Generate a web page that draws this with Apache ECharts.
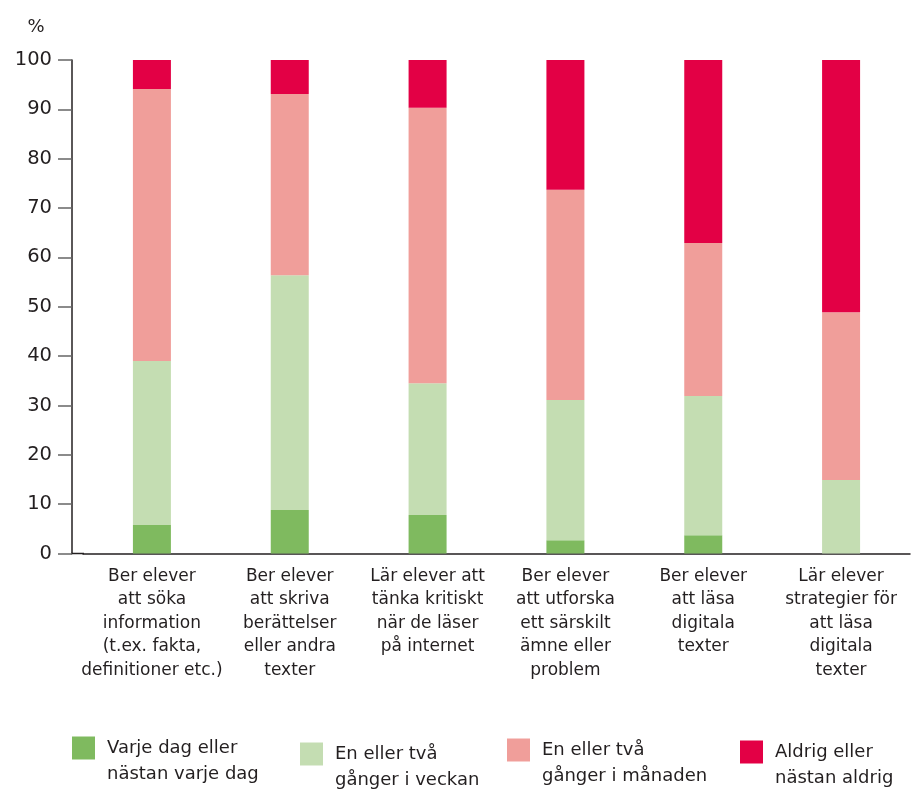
<!DOCTYPE html>
<html>
<head>
<meta charset="utf-8">
<script src="https://cdn.jsdelivr.net/npm/echarts@6/dist/echarts.min.js"></script>
<style>
html,body{margin:0;padding:0;background:#fff;}
#chart{width:911px;height:790px;}
</style>
</head>
<body>
<div id="chart"></div>
<script>
const categories = [
  "Ber elever\natt söka\ninformation\n(t.ex. fakta,\ndefinitioner etc.)",
  "Ber elever\natt skriva\nberättelser\neller andra\ntexter",
  "Lär elever att\ntänka kritiskt\nnär de läser\npå internet",
  "Ber elever\natt utforska\nett särskilt\nämne eller\nproblem",
  "Ber elever\natt läsa\ndigitala\ntexter",
  "Lär elever\nstrategier för\natt läsa\ndigitala\ntexter"
];
const seriesNames = [
  "Varje dag eller\nnästan varje dag",
  "En eller två\ngånger i veckan",
  "En eller två\ngånger i månaden",
  "Aldrig eller\nnästan aldrig"
];
const dailyValues   = [5.8, 8.8, 7.8, 2.7, 3.7, 0];
const weeklyValues  = [33.2, 47.6, 26.7, 28.4, 28.2, 14.9];
const monthlyValues = [55.1, 36.7, 55.8, 42.6, 31.0, 34.0];
const neverValues   = [5.9, 7.1, 9.7, 26.3, 37.1, 51.1];
const yTicks = [0, 10, 20, 30, 40, 50, 60, 70, 80, 90, 100];

const colors = ["#7fba5f", "#c4ddb2", "#f09e9a", "#e30045"];
const FONT = "DejaVu Sans";
const TXT = "#231f20";

const allValues = [dailyValues, weeklyValues, monthlyValues, neverValues];

const chart = echarts.init(document.getElementById('chart'), null, {renderer: 'canvas'});

const legendPos = [
  {left: 72, top: 704},
  {left: 300, top: 710},
  {left: 507, top: 706},
  {left: 740, top: 708}
];

const legends = seriesNames.map((n, i) => ({
  data: [n],
  left: legendPos[i].left,
  top: legendPos[i].top,
  padding: 0,
  orient: 'horizontal',
  itemWidth: 23,
  itemHeight: 23,
  itemGap: 12,
  icon: 'rect',
  selectedMode: false,
  formatter: name => '\n' + name,
  textStyle: {
    fontFamily: FONT,
    fontSize: 18,
    color: TXT,
    lineHeight: 26,
    padding: [10, 0, 0, 7]
  }
}));

const option = {
  animation: false,
  backgroundColor: '#fff',
  textStyle: {fontFamily: FONT},
  grid: {left: 83, right: 1, top: 60, bottom: 236.5, containLabel: false},
  legend: legends,
  xAxis: {
    type: 'category',
    data: categories,
    boundaryGap: true,
    axisLine: {show: true, lineStyle: {color: TXT, width: 1.5}},
    axisTick: {show: false},
    axisLabel: {
      interval: 0,
      fontFamily: FONT,
      fontSize: 17,
      lineHeight: 23.5,
      color: TXT,
      margin: 11
    }
  },
  yAxis: {
    type: 'value',
    min: 0,
    max: 100,
    interval: 10,
    offset: 11,
    name: '%',
    nameLocation: 'end',
    nameGap: 24,
    nameTextStyle: {fontFamily: FONT, fontSize: 18, color: TXT, padding: [0, 72, 0, 0]},
    axisLine: {show: true, lineStyle: {color: TXT, width: 1.5}},
    axisTick: {show: true, length: 14, lineStyle: {color: '#666', width: 1.5}},
    splitLine: {show: false},
    axisLabel: {
      fontFamily: FONT,
      fontSize: 19.5,
      color: TXT,
      margin: 20,
      padding: [4, 0, 0, 0],
      formatter: v => (yTicks.indexOf(v) >= 0 ? String(v) : '')
    }
  },
  series: seriesNames.map((n, i) => ({
    name: n,
    type: 'bar',
    stack: 'total',
    barWidth: 38,
    data: allValues[i],
    itemStyle: {color: colors[i]},
    emphasis: {disabled: true}
  })),
  graphic: [{
    type: 'line',
    shape: {x1: 71, y1: 553.5, x2: 84, y2: 553.5},
    style: {stroke: TXT, lineWidth: 1.5},
    silent: true
  }]
};

chart.setOption(option);
</script>
</body>
</html>
